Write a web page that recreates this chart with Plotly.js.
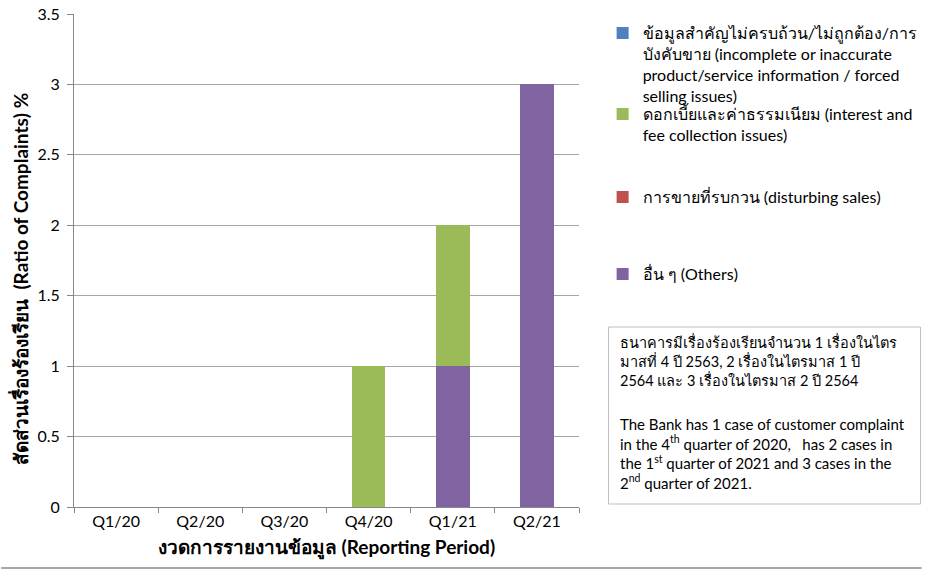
<!DOCTYPE html>
<html>
<head>
<meta charset="utf-8">
<script src="https://cdn.plot.ly/plotly-3.0.1.min.js"></script>
<style>html,body{margin:0;padding:0;background:#fff;}#chart{width:935px;height:573px;}</style>
</head>
<body>
<div id="chart"></div>
<script>
const categories = ["Q1/20", "Q2/20", "Q3/20", "Q4/20", "Q1/21", "Q2/21"];
const incompleteInfo = [0, 0, 0, 0, 0, 0];
const interestFee = [0, 0, 0, 1, 1, 0];
const disturbingSales = [0, 0, 0, 0, 0, 0];
const others = [0, 0, 0, 0, 1, 3];
const yTicks = [0, 0.5, 1, 1.5, 2, 2.5, 3, 3.5];

const nameIncomplete = "ข้อมูลสำคัญไม่ครบถ้วน/ไม่ถูกต้อง/การ<br>บังคับขาย (incomplete or inaccurate<br>product/service information / forced<br>selling issues)";
const nameInterest = "ดอกเบี้ยและค่าธรรมเนียม (interest and<br>fee collection issues)";
const nameDisturbing = "การขายที่รบกวน (disturbing sales)";
const nameOthers = "อื่น ๆ (Others)";
const xTitle = "<b>งวดการรายงานข้อมูล (Reporting Period)</b>";
const yTitle = "<b>สัดส่วนเรื่องร้องเรียน  (Ratio of Complaints) %</b>";
const noteThai = "ธนาคารมีเรื่องร้องเรียนจำนวน 1 เรื่องในไตร<br>มาสที่ 4 ปี 2563, 2 เรื่องในไตรมาส 1 ปี<br>2564 และ 3 เรื่องในไตรมาส 2 ปี 2564";
const noteEnglish = "The Bank has 1 case of customer complaint<br>in the 4<sup>th</sup> quarter of 2020, &nbsp; has 2 cases in<br>the 1<sup>st</sup> quarter of 2021 and 3 cases in the<br>2<sup>nd</sup> quarter of 2021.";

const FONT = "Lato, 'Noto Sans', 'DejaVu Sans', sans-serif";

// plot area in pixels
const L = 74, R = 587, T = 14, B = 507, W = 935, H = 573;
const px = x => (x - L) / (R - L);
const py = y => (B - y) / (B - T);

const common = {type: "bar", x: categories, hoverinfo: "y"};
const data = [
  Object.assign({}, common, {name: nameOthers, y: others, marker: {color: "#8064A2", line: {width: 0}}, legend: "legend4"}),
  Object.assign({}, common, {name: nameIncomplete, y: incompleteInfo, marker: {color: "#4F81BD", line: {width: 0}}, legend: "legend"}),
  Object.assign({}, common, {name: nameInterest, y: interestFee, marker: {color: "#9BBB59", line: {width: 0}}, legend: "legend2"}),
  Object.assign({}, common, {name: nameDisturbing, y: disturbingSales, marker: {color: "#C0504D", line: {width: 0}}, legend: "legend3"})
];

function leg(topPx) {
  return {x: px(611), y: py(topPx), xanchor: "left", yanchor: "top", bgcolor: "rgba(0,0,0,0)",
          font: {family: FONT, size: 16, color: "#000"}, valign: "top", itemwidth: 30, tracegroupgap: 0};
}

const layout = {
  width: W, height: H,
  margin: {l: L, r: W - R, t: T, b: H - B, pad: 0},
  paper_bgcolor: "#fff", plot_bgcolor: "#fff",
  barmode: "stack", bargap: 0.6,
  font: {family: FONT, size: 16, color: "#000"},
  showlegend: true,
  legend: leg(16), legend2: leg(97), legend3: leg(180), legend4: leg(257),
  xaxis: {
    type: "category", categoryorder: "array", categoryarray: categories,
    showline: true, linecolor: "#868686", linewidth: 1,
    ticks: "outside", tickson: "boundaries", ticklen: 5, tickcolor: "#868686",
    showgrid: false, tickfont: {family: FONT, size: 16, color: "#000"},
    title: {text: xTitle, font: {family: FONT, size: 19, color: "#000"}, standoff: 11}
  },
  yaxis: {
    range: [0, 3.5], tickvals: yTicks, ticktext: yTicks.map(String),
    showline: true, linecolor: "#868686", linewidth: 1,
    ticks: "outside", ticklen: 6, tickcolor: "#868686", ticklabelstandoff: 4,
    showgrid: true, gridcolor: "#a6a6a6", gridwidth: 1, zeroline: false,
    tickfont: {family: FONT, size: 16, color: "#000"},
    title: {text: ""}
  },
  shapes: [
    {type: "rect", xref: "paper", yref: "paper", x0: px(617), x1: px(934), y0: py(504), y1: py(327),
     line: {color: "#bfbfbf", width: 1}, fillcolor: "rgba(0,0,0,0)", layer: "above"},
    {type: "line", xref: "paper", yref: "paper", x0: px(0), x1: px(935), y0: py(568), y1: py(568),
     line: {color: "#a6a6a6", width: 2}}
  ],
  annotations: [
    {xref: "paper", yref: "paper", x: px(19), y: py(279), xanchor: "center", yanchor: "middle",
     textangle: -90, showarrow: false, text: yTitle, font: {family: FONT, size: 19, color: "#000"}},
    {xref: "paper", yref: "paper", x: px(627), y: py(331), xanchor: "left", yanchor: "top",
     align: "left", showarrow: false, text: noteThai, font: {family: FONT, size: 14.5, color: "#000"}},
    {xref: "paper", yref: "paper", x: px(627), y: py(413), xanchor: "left", yanchor: "top",
     align: "left", showarrow: false, text: noteEnglish, font: {family: FONT, size: 15, color: "#000"}}
  ]
};

Plotly.newPlot("chart", data, layout, {displayModeBar: false, staticPlot: true});
</script>
</body>
</html>
